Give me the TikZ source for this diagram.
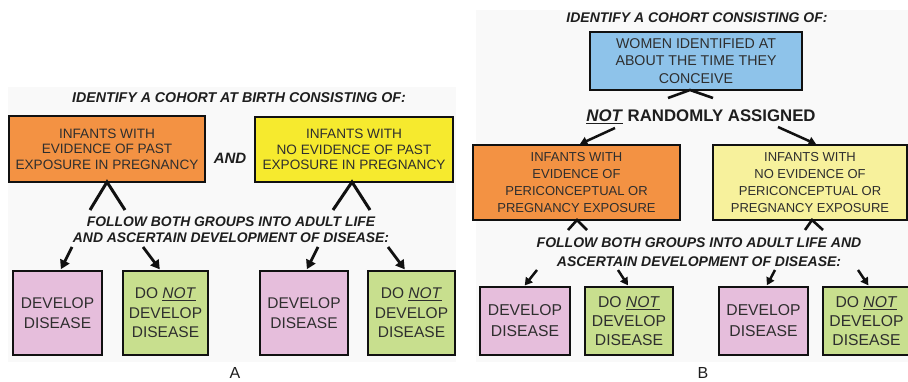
\documentclass[tikz,border=0pt]{standalone}
\usepackage{fontspec}
\setmainfont{Liberation Sans}
\usetikzlibrary{arrows.meta}

\definecolor{panelbg}{HTML}{F9F9F9}
\definecolor{boxorange}{HTML}{F39243}
\definecolor{boxyellow}{HTML}{F6EA2E}
\definecolor{paleyellow}{HTML}{F7F19C}
\definecolor{boxblue}{HTML}{8EC3EA}
\definecolor{boxpink}{HTML}{E6BEDC}
\definecolor{boxgreen}{HTML}{C8DF8E}
\definecolor{boxtext}{HTML}{2E2E2E}
\definecolor{headtext}{HTML}{1E1E1E}
\definecolor{inkline}{HTML}{111111}

\begin{document}
\begin{tikzpicture}[x=1pt,y=-1pt,
  box/.style={draw=inkline, line width=2.8pt, inner sep=0pt, outer sep=0pt,
              align=center, text=boxtext},
  smalltext/.style={font=\fontsize{13.6}{15.5}\selectfont},
  bigtext/.style={font=\fontsize{15.5}{19.5}\selectfont},
  heading/.style={font=\bfseries\itshape\fontsize{14.2}{16}\selectfont,
                  text=headtext, align=center, inner sep=0pt},
  conn/.style={draw=inkline, line width=3pt},
  arrA/.style={draw=inkline, line width=2.8pt, shorten >=2pt,
               -{Triangle[length=9pt,width=10pt]}},
  arrB/.style={draw=inkline, line width=2.5pt, shorten >=2pt,
               -{Triangle[length=7.5pt,width=8.5pt]}},
  panellabel/.style={font=\fontsize{16}{19}\selectfont, text=headtext, inner sep=0pt}
]
\useasboundingbox (0,0) rectangle (908,382);

% faint panel backgrounds
\fill[panelbg] (8,87) rectangle (456,362);
\fill[panelbg] (476,10) rectangle (908,362);

% ---------------- Panel A ----------------
\node[heading] (titleA) at (239,98) {IDENTIFY A COHORT AT BIRTH CONSISTING OF:};

\node[box, smalltext, fill=boxorange, minimum width=196pt, minimum height=66pt]
  (oa) at (107,149) {INFANTS WITH\\EVIDENCE OF PAST\\EXPOSURE IN PREGNANCY};
\node[box, smalltext, fill=boxyellow, minimum width=198pt, minimum height=65pt]
  (ya) at (354,149.5) {INFANTS WITH\\NO EVIDENCE OF PAST\\EXPOSURE IN PREGNANCY};
\node[heading, font=\bfseries\itshape\fontsize{15}{18}\selectfont] (andA) at (230,158) {AND};

\coordinate (oal) at (90,210);
\coordinate (oar) at (125,210);
\coordinate (yal) at (333,210);
\coordinate (yar) at (370,210);
\draw[conn] (oal) -- (oa.south) -- (oar);
\draw[conn] (yal) -- ([xshift=-2pt]ya.south) -- (yar);

\node[heading, font=\bfseries\itshape\fontsize{13.9}{16}\selectfont] (followA) at (231,230)
  {FOLLOW BOTH GROUPS INTO ADULT LIFE\\AND ASCERTAIN DEVELOPMENT OF DISEASE:};

\node[box, bigtext, fill=boxpink, minimum width=89pt, minimum height=84pt]
  (pa1) at (57.5,313) {DEVELOP\\DISEASE};
\node[box, bigtext, fill=boxgreen, minimum width=85pt, minimum height=84pt]
  (ga1) at (165.5,313) {DO \underline{\textit{NOT}}\\DEVELOP\\DISEASE};
\node[box, bigtext, fill=boxpink, minimum width=88pt, minimum height=84pt]
  (pa2) at (304,313) {DEVELOP\\DISEASE};
\node[box, bigtext, fill=boxgreen, minimum width=87pt, minimum height=84pt]
  (ga2) at (411.5,313) {DO \underline{\textit{NOT}}\\DEVELOP\\DISEASE};

\coordinate (sa1) at (72,247);
\coordinate (sa2) at (143,247);
\coordinate (sa3) at (318,247);
\coordinate (sa4) at (388,247);
\draw[arrA] (sa1) -- ([xshift=2.5pt]pa1.north);
\draw[arrA] (sa2) -- ([xshift=-4.5pt]ga1.north);
\draw[arrA] (sa3) -- ([xshift=2pt]pa2.north);
\draw[arrA] (sa4) -- ([xshift=-5.5pt]ga2.north);

\node[panellabel] (labA) at (235,373) {A};

% ---------------- Panel B ----------------
\node[heading, font=\bfseries\itshape\fontsize{14}{16}\selectfont] (titleB) at (697,18)
  {IDENTIFY A COHORT CONSISTING OF:};

\node[box, fill=boxblue, minimum width=212pt, minimum height=58pt,
      font=\fontsize{14.2}{17.5}\selectfont]
  (bl) at (696,61) {WOMEN IDENTIFIED AT\\ABOUT THE TIME THEY\\CONCEIVE};

\coordinate (bll) at (668,98);
\coordinate (blr) at (713,98);
\draw[conn, line width=2.6pt] (bll) -- ([xshift=-6pt]bl.south) -- (blr);

\node[heading, font=\bfseries\fontsize{16.8}{19}\selectfont] (nra) at (701,117)
  {\underline{\textit{NOT}} RANDOMLY ASSIGNED};

\node[box, fill=boxorange, minimum width=207pt, minimum height=75pt,
      font=\fontsize{13}{17}\selectfont]
  (ob) at (576.5,182.5) {INFANTS WITH\\EVIDENCE OF\\PERICONCEPTUAL OR\\PREGNANCY EXPOSURE};
\node[box, fill=paleyellow, minimum width=194pt, minimum height=75pt,
      font=\fontsize{13}{17}\selectfont]
  (yb) at (810,182.5) {INFANTS WITH\\NO EVIDENCE OF\\PERICONCEPTUAL OR\\PREGNANCY EXPOSURE};

\coordinate (nral) at (615,128);
\coordinate (nrar) at (778,127);
\draw[arrB] (nral) -- ([xshift=1.5pt]ob.north);
\draw[arrB] (nrar) -- ([xshift=8pt]yb.north);

\coordinate (obl) at (568,230);
\coordinate (obr) at (587,230);
\coordinate (ybl) at (805,230);
\coordinate (ybr) at (823,230);
\draw[conn, line width=2.6pt] (obl) -- ([xshift=0.5pt]ob.south) -- (obr);
\draw[conn, line width=2.6pt] (ybl) -- ([xshift=2pt]yb.south) -- (ybr);

\node[heading, font=\bfseries\itshape\fontsize{14}{19}\selectfont] (followB) at (699,252)
  {FOLLOW BOTH GROUPS INTO ADULT LIFE AND\\ASCERTAIN DEVELOPMENT OF DISEASE:};

\node[box, bigtext, fill=boxpink, minimum width=90pt, minimum height=68pt,
      font=\fontsize{15.7}{21}\selectfont]
  (pb1) at (525,321) {DEVELOP\\DISEASE};
\node[box, bigtext, fill=boxgreen, minimum width=88pt, minimum height=68pt,
      font=\fontsize{15.7}{19}\selectfont]
  (gb1) at (629,321) {DO \underline{\textit{NOT}}\\DEVELOP\\DISEASE};
\node[box, bigtext, fill=boxpink, minimum width=89pt, minimum height=68pt,
      font=\fontsize{15.7}{21}\selectfont]
  (pb2) at (763.5,321) {DEVELOP\\DISEASE};
\node[box, bigtext, fill=boxgreen, minimum width=87pt, minimum height=68pt,
      font=\fontsize{15.7}{19}\selectfont]
  (gb2) at (866.5,321) {DO \underline{\textit{NOT}}\\DEVELOP\\DISEASE};

\coordinate (sb1) at (537,270);
\coordinate (sb2) at (618,270);
\coordinate (sb3) at (775,270);
\coordinate (sb4) at (858,270);
\draw[arrB] (sb1) -- ([xshift=-1.5pt]pb1.north);
\draw[arrB] (sb2) -- (gb1.north);
\draw[arrB] (sb3) -- ([xshift=2.5pt]pb2.north);
\draw[arrB] (sb4) -- ([xshift=3pt]gb2.north);

\node[panellabel] (labB) at (703,373) {B};
\end{tikzpicture}
\end{document}
